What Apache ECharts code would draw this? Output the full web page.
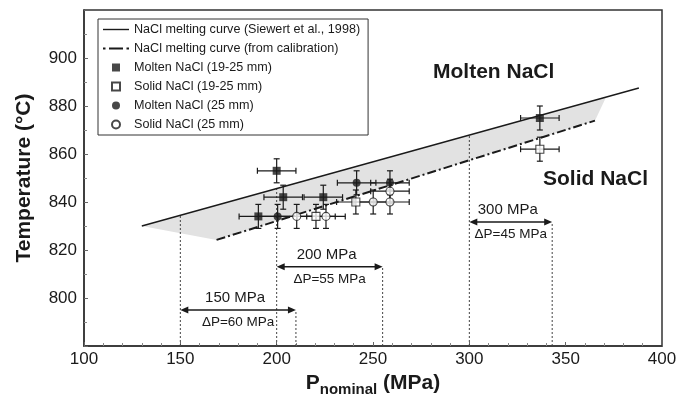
<!DOCTYPE html>
<html>
<head>
<meta charset="utf-8">
<script src="https://cdn.jsdelivr.net/npm/echarts@6/dist/echarts.min.js"></script>
<style>
  html, body { margin: 0; padding: 0; background: #fff; }
  #chart { width: 681px; height: 397px; }
</style>
</head>
<body>
<div id="chart"></div>
<script>
// melting curves, [P (MPa), T (°C)]
const siewertCurve = [[130, 830], [388, 887.5]];
const calibCurve = [[168.8, 824.2], [365.2, 873.9]];
const shadedBand = [[130, 830], [371, 883.7], [365.2, 873.9], [168.8, 824.2]];

// experiments
const moltenSq = [[190.5, 834], [200, 853], [203.4, 842], [224.2, 842], [336.6, 875]];
const solidSq = [[220.4, 834], [241.1, 840], [336.6, 862]];
const moltenCirc = [[200.5, 834], [241.5, 848], [258.8, 848]];
const solidCirc = [[210.4, 834], [225.6, 834], [250.1, 840], [258.8, 844.5], [258.8, 840]];
const errP = 10;
const errT = 5;

// pressure windows: [from P, to P, T level]
const arrows = [[150, 210, 795], [200, 255, 813], [300, 343, 831.7]];
const arrowNames = ['150 MPa', '200 MPa', '300 MPa'];
const arrowDeltas = ['ΔP=60 MPa', 'ΔP=55 MPa', 'ΔP=45 MPa'];

// dotted guides: [P, top T]
const guides = [[150, 834.5], [200, 845.6], [210, 795], [255, 813], [300, 868], [343, 831.7]];

const legendNames = [
  'NaCl melting curve (Siewert et al., 1998)',
  'NaCl melting curve (from calibration)',
  'Molten NaCl (19-25 mm)',
  'Solid NaCl (19-25 mm)',
  'Molten NaCl (25 mm)',
  'Solid NaCl (25 mm)'
];

const FONT = "'Liberation Sans', Arial, sans-serif";
const INK = '#1a1a1a';

// legend icons (path icons keep their aspect)
const ICON_SOLID = 'path://M0,0H26V1.4H0Z';
const ICON_DASHDOT = 'path://M0,0H2.5V2H0Z M6,0H20V2H6Z M23.5,0H26V2H23.5Z';
const ICON_SQUARE = 'path://M0,0H8V8H0Z';

var myChart = echarts.init(document.getElementById('chart'));

function errorBars(data) {
  return {
    type: 'custom',
    silent: true,
    z: 3,
    data: data,
    renderItem: function (params, api) {
      const p = api.value(0), t = api.value(1);
      const l = api.coord([p - errP, t]);
      const r = api.coord([p + errP, t]);
      const d = api.coord([p, t - errT]);
      const u = api.coord([p, t + errT]);
      const c = 3;
      const st = { stroke: INK, lineWidth: 1.2 };
      const seg = (x1, y1, x2, y2) => ({ type: 'line', shape: { x1, y1, x2, y2 }, style: st });
      return {
        type: 'group',
        children: [
          seg(l[0], l[1], r[0], r[1]),
          seg(d[0], d[1], u[0], u[1]),
          seg(l[0], l[1] - c, l[0], l[1] + c),
          seg(r[0], r[1] - c, r[0], r[1] + c),
          seg(d[0] - c, d[1], d[0] + c, d[1]),
          seg(u[0] - c, u[1], u[0] + c, u[1])
        ]
      };
    }
  };
}

function markers(name, data, symbol, filled) {
  return {
    name: name,
    type: 'scatter',
    z: 5,
    data: data,
    symbol: symbol,
    symbolSize: 8,
    itemStyle: {
      color: filled ? INK : '#fff',
      borderColor: INK,
      borderWidth: filled ? 0 : 1.1
    }
  };
}

var option = {
  animation: false,
  textStyle: { fontFamily: FONT, color: INK },
  grid: {
    left: 84, right: 19, top: 10, bottom: 51,
    outerBoundsMode: 'none',
    show: true, borderColor: '#333', borderWidth: 1.5, backgroundColor: 'transparent'
  },
  legend: {
    orient: 'vertical',
    left: 98,
    top: 19,
    padding: [4, 8, 4, 5],
    itemGap: 6,
    itemWidth: 26,
    itemHeight: 8,
    symbolKeepAspect: true,
    borderColor: '#333',
    borderWidth: 1,
    backgroundColor: '#fff',
    textStyle: { fontFamily: FONT, fontSize: 12.6, color: INK },
    data: [
      { name: legendNames[0], icon: ICON_SOLID, itemStyle: { color: INK, borderWidth: 0 } },
      { name: legendNames[1], icon: ICON_DASHDOT, itemStyle: { color: INK, borderWidth: 0 } },
      { name: legendNames[2], icon: ICON_SQUARE },
      { name: legendNames[3], icon: ICON_SQUARE },
      { name: legendNames[4], icon: 'circle' },
      { name: legendNames[5], icon: 'circle' }
    ]
  },
  xAxis: {
    type: 'value',
    min: 100, max: 400, interval: 50,
    name: '{b|P}{s|nominal}{b| (MPa)}',
    nameLocation: 'middle',
    nameGap: 27,
    nameTextStyle: {
      rich: {
        b: { fontFamily: FONT, fontSize: 21, fontWeight: 'bold', color: INK, verticalAlign: 'bottom', padding: [0, 0, 3, 0] },
        s: { fontFamily: FONT, fontSize: 15, fontWeight: 'bold', color: INK, verticalAlign: 'bottom' }
      }
    },
    axisLine: { lineStyle: { color: '#333', width: 1.5 } },
    axisTick: { inside: true, length: 4, lineStyle: { color: '#666' } },
    minorTick: { show: true, splitNumber: 5, length: 3, lineStyle: { color: '#888' } },
    splitLine: { show: false },
    axisLabel: { fontSize: 17, color: INK, margin: 5, fontFamily: FONT }
  },
  yAxis: {
    type: 'value',
    min: 780, max: 920, interval: 20,
    name: 'Temperature (°C)',
    nameLocation: 'middle',
    nameGap: 49,
    nameTextStyle: { fontSize: 21, fontWeight: 'bold', color: INK, fontFamily: FONT },
    axisLine: { lineStyle: { color: '#333', width: 1.5 } },
    axisTick: { inside: true, length: 4, lineStyle: { color: '#666' } },
    minorTick: { show: true, splitNumber: 2, length: 3, lineStyle: { color: '#888' } },
    splitLine: { show: false },
    axisLabel: { fontSize: 17, color: INK, margin: 7, showMinLabel: false, showMaxLabel: false, fontFamily: FONT }
  },
  series: [
    {
      type: 'custom',
      silent: true,
      z: 1,
      data: shadedBand,
      renderItem: function (params, api) {
        if (params.dataIndex !== 0) return null;
        return {
          type: 'polygon',
          shape: { points: shadedBand.map(p => api.coord(p)) },
          style: { fill: '#e2e2e2' }
        };
      }
    },
    {
      type: 'custom',
      silent: true,
      z: 2,
      data: guides,
      renderItem: function (params, api) {
        const b = api.coord([api.value(0), 780]);
        const t = api.coord([api.value(0), api.value(1)]);
        return {
          type: 'line',
          shape: { x1: b[0], y1: b[1], x2: t[0], y2: t[1] },
          style: { stroke: '#444', lineWidth: 1, lineDash: [2, 2] }
        };
      }
    },
    {
      name: legendNames[0],
      type: 'line',
      z: 2,
      data: siewertCurve,
      symbol: 'none',
      lineStyle: { color: INK, width: 1.3 },
      itemStyle: { color: INK }
    },
    {
      name: legendNames[1],
      type: 'line',
      z: 2,
      data: calibCurve,
      symbol: 'none',
      lineStyle: { color: INK, width: 2, type: [9, 3, 2, 3] },
      itemStyle: { color: INK }
    },
    {
      type: 'custom',
      silent: true,
      z: 2,
      data: arrows,
      renderItem: function (params, api) {
        const a = api.coord([api.value(0), api.value(2)]);
        const b = api.coord([api.value(1), api.value(2)]);
        const mid = api.coord([(api.value(0) + api.value(1)) / 2, api.value(2)]);
        const h = 8, w = 3.5;
        const i = params.dataIndex;
        return {
          type: 'group',
          children: [
            { type: 'line', shape: { x1: a[0] + 4, y1: a[1], x2: b[0] - 4, y2: b[1] }, style: { stroke: INK, lineWidth: 1.5 } },
            { type: 'polygon', shape: { points: [[a[0], a[1]], [a[0] + h, a[1] - w], [a[0] + h, a[1] + w]] }, style: { fill: INK } },
            { type: 'polygon', shape: { points: [[b[0], b[1]], [b[0] - h, b[1] - w], [b[0] - h, b[1] + w]] }, style: { fill: INK } },
            { type: 'text', x: mid[0] - 3, y: mid[1] - 12, style: { text: arrowNames[i], fontFamily: FONT, fontSize: 15, fill: INK, align: 'center', verticalAlign: 'middle' } },
            { type: 'text', x: mid[0], y: mid[1] + 12, style: { text: arrowDeltas[i], fontFamily: FONT, fontSize: 13.5, fill: INK, align: 'center', verticalAlign: 'middle', backgroundColor: '#fff' } }
          ]
        };
      }
    },
    errorBars(moltenSq),
    errorBars(solidSq),
    errorBars(moltenCirc),
    errorBars(solidCirc),
    markers(legendNames[2], moltenSq, 'rect', true),
    markers(legendNames[3], solidSq, 'rect', false),
    markers(legendNames[4], moltenCirc, 'circle', true),
    markers(legendNames[5], solidCirc, 'circle', false)
  ],
  graphic: [
    { type: 'text', left: 433, top: 62, style: { text: 'Molten NaCl', fontFamily: FONT, fontSize: 21, fontWeight: 'bold', fill: INK } },
    { type: 'text', left: 543, top: 169, style: { text: 'Solid NaCl', fontFamily: FONT, fontSize: 21, fontWeight: 'bold', fill: INK } }
  ]
};
myChart.setOption(option);
</script>
</body>
</html>
